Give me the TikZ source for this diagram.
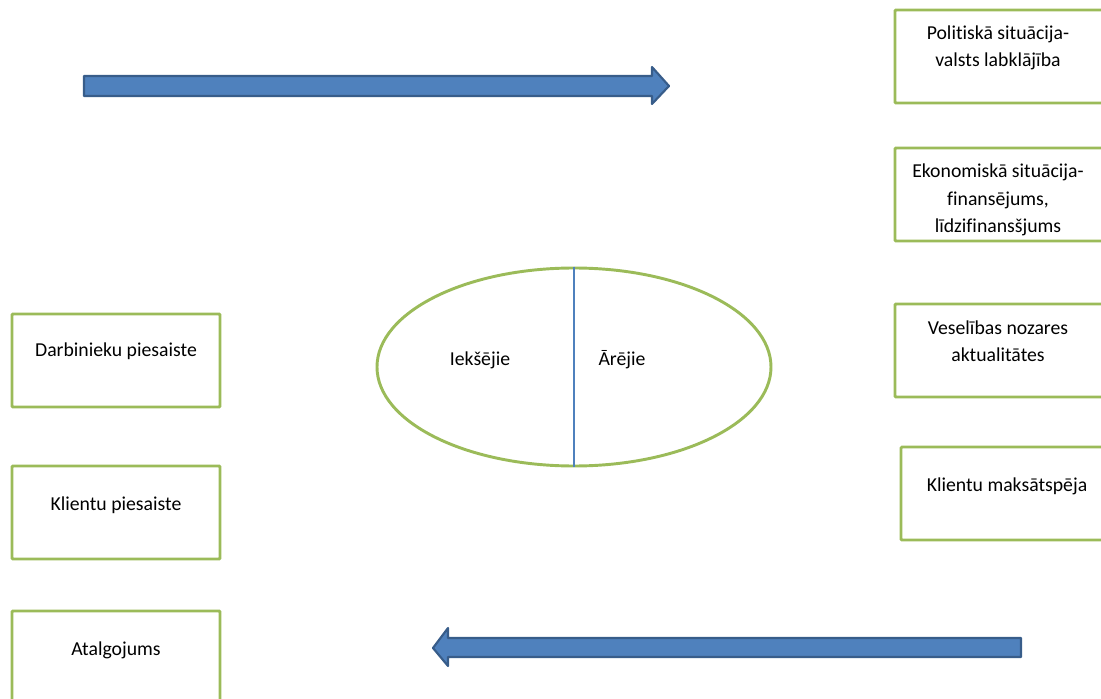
\documentclass[tikz,border=0pt]{standalone}
\usepackage{fontspec}
\setmainfont{Carlito}[Ligatures=NoCommon]
\usetikzlibrary{shapes.geometric}
\definecolor{ogreen}{HTML}{9BBB59}
\definecolor{oblue}{HTML}{4F81BD}
\definecolor{oblueb}{HTML}{385D8A}
\begin{document}
\begin{tikzpicture}[x=0.75pt,y=-0.75pt,
  gbox/.style={draw=ogreen,line width=2.2pt,rounded corners=0.8pt,inner sep=0pt},
  txt/.style={font=\fontsize{14.8pt}{20.25pt}\selectfont,align=center,inner sep=0pt,anchor=base},
  barrow/.style={fill=oblue,draw=oblueb,line width=1.6pt,line join=round}]
\useasboundingbox (0,0) rectangle (1101,699);
\clip (0,0) rectangle (1101,699);
% texts (last-line baselines)
\node[txt] (polt) at (998,67) {Politiskā situācija-\\valsts labklājība};
\node[txt] (ekot) at (998,232) {Ekonomiskā situācija-\\finansējums,\\līdzifinansšjums};
\node[txt] (vest) at (998,361) {Veselības nozares\\aktualitātes};
\node[txt] (klit) at (1007,491) {Klientu maksātspēja};
\node[txt] (dart) at (116,356) {Darbinieku piesaiste};
\node[txt] (kpt) at (116,510) {Klientu piesaiste};
\node[txt] (atat) at (116,655) {Atalgojums};
% right boxes
\fill[white] (880,242) rectangle (1120,252);
\draw[gbox] (895,10) rectangle (1120,103) node[pos=0] (pol) {};
\draw[gbox] (895,148) rectangle (1120,241) node[pos=0] (eko) {};
\draw[gbox] (895,304) rectangle (1120,397) node[pos=0] (ves) {};
\draw[gbox] (901,447) rectangle (1120,540) node[pos=0] (kli) {};
% left boxes
\draw[gbox] (12,314) rectangle (220,407) node[pos=0] (dar) {};
\draw[gbox] (12,466) rectangle (220,559) node[pos=0] (kp) {};
\draw[gbox] (12,611) rectangle (220,720) node[pos=0] (ata) {};
% ellipse
\node[ellipse,draw=ogreen,line width=2.2pt,minimum width=394*0.75pt,minimum height=198*0.75pt,inner sep=0pt] (ell) at (574,367) {};
\draw[draw=oblue,line width=0.8pt] (ell.north) -- (ell.south);
\node[txt] (iek) at (480,365) {Iekšējie};
\node[txt] (are) at (622,365) {Ārējie};
% arrows
\draw[barrow] (84,76) -- (652,76) -- (652,67) -- (669,86) -- (652,104) -- (652,96) -- (84,96) -- cycle;
\draw[barrow] (1021,638) -- (448,638) -- (448,628) -- (433,648) -- (448,666) -- (448,657) -- (1021,657) -- cycle;
\end{tikzpicture}
\end{document}
